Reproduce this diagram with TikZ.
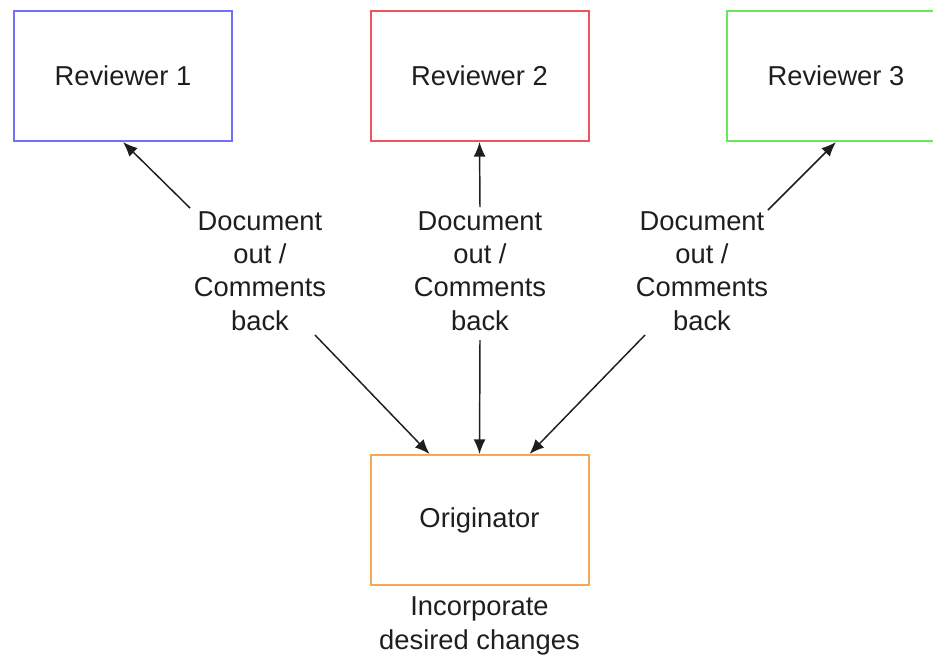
\documentclass[tikz,border=0pt]{standalone}
\usepackage{fontspec}
\setmainfont{Liberation Sans}
\usetikzlibrary{arrows.meta,calc}
\definecolor{revblue}{RGB}{112,112,250}
\definecolor{revred}{RGB}{238,84,88}
\definecolor{revgreen}{RGB}{104,232,92}
\definecolor{origorange}{RGB}{246,168,84}
\definecolor{ink}{RGB}{30,30,30}
\begin{document}
\begin{tikzpicture}[x=0.75pt,y=-0.75pt,
  box/.style={draw,line width=1.5pt,minimum width=163.5pt,minimum height=97.5pt,
    inner sep=0pt,text=ink,font=\fontsize{20.5}{25}\selectfont},
  lbl/.style={align=center,text=ink,inner sep=0pt,font=\fontsize{20.5}{25}\selectfont},
  flow/.style={draw=ink,line width=1.1pt,-{Latex[length=11pt,width=9pt]}}]
  \useasboundingbox (0,0) rectangle (933,658);
  \begin{scope}
    \clip (0,0) rectangle (933,658);
    % reviewers along the top
    \node[box,draw=revblue]  (rev1) at (123,76) {Reviewer 1};
    \node[box,draw=revred]   (rev2) at (479.5,76) {Reviewer 2};
    \node[box,draw=revgreen] (rev3) at (836,76) {Reviewer 3};
  \end{scope}
  % originator
  \node[box,draw=origorange] (orig) at (479.5,520) {Originator};
  \node[lbl] (note) at (479.5,626) {Incorporate\\desired changes};
  % exchange labels
  \node[lbl] (lab1) at (260,271) {Document\\out /\\Comments\\back};
  \node[lbl] (lab2) at (480,271) {Document\\out /\\Comments\\back};
  \node[lbl] (lab3) at (702,271) {Document\\out /\\Comments\\back};
  % arrow ends beside the labels
  \coordinate (a1) at (190,208);
  \coordinate (b1) at (315,335);
  \coordinate (a2) at (480,207);
  \coordinate (b2) at (480,340);
  \coordinate (a3) at (768,210);
  \coordinate (b3) at (645,335);
  % arrows
  \draw[flow] (a1) -- (rev1.south);
  \draw[flow] (b1) -- ($(orig.north)+(-50,0)$);
  \draw[flow] (a2) -- (rev2.south);
  \draw[flow] (b2) -- (orig.north);
  \draw[flow] (a3) -- (rev3.south);
  \draw[flow] (b3) -- ($(orig.north)+(50,0)$);
\end{tikzpicture}
\end{document}
